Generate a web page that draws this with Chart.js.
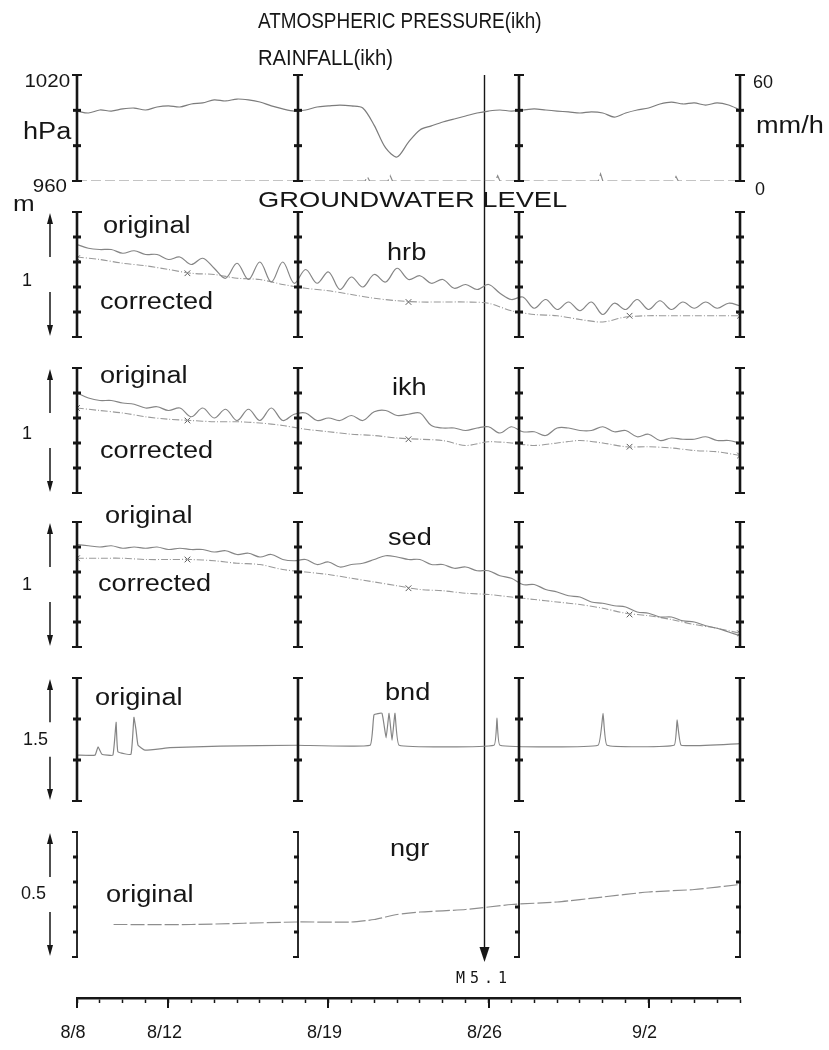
<!DOCTYPE html>
<html>
<head>
<meta charset="utf-8">
<script src="https://cdn.jsdelivr.net/npm/chart.js@4.4.1/dist/chart.umd.min.js"></script>
<style>
  body { margin: 0; background: #fff; }
  #page { position: relative; width: 829px; height: 1050px; overflow: hidden;
          font-family: "Liberation Sans", Arial, Helvetica, sans-serif; color: #161616; }
  #page canvas { position: absolute; left: 0; }
  .lbl { position: absolute; white-space: nowrap; line-height: 1; }
</style>
</head>
<body>
<div id="page">
  <canvas id="base" width="829" height="1050" style="top:0"></canvas>
  <canvas id="top" width="829" height="126" style="top:65px"></canvas>
  <canvas id="hrb" width="829" height="145" style="top:202px"></canvas>
  <canvas id="ikh" width="829" height="145" style="top:358px"></canvas>
  <canvas id="sed" width="829" height="145" style="top:512px"></canvas>
  <canvas id="bnd" width="829" height="143" style="top:668px"></canvas>
  <canvas id="ngr" width="829" height="145" style="top:822px"></canvas>
</div>
<script>
// Zeitachse in Tagen ab 8/8
const dayMax = 29;
const dateDays = [0, 4, 11, 18, 25];
const dateLabels = ['8/8', '8/12', '8/19', '8/26', '9/2'];
const dividerDays = [0, 9.67, 19.33, 29];
const markDays = [0, 4.83, 14.5, 24.17, 29];
const quakeDay = 17.8;
const quakeLabel = 'M5.1';

// Luftdruck (hPa), alle 12 h
const pressure = [999.6, 998.5, 1000.2, 999.6, 1000.8, 1001.3, 1000.2, 1001.9, 1002.5, 1001.9,
  1003.6, 1004.2, 1005.9, 1005.3, 1006.4, 1005.9, 1004.7, 1002.5, 1000.8, 999.6,
  1000.2, 1001.9, 1002.5, 1003.0, 1002.5, 1001.3, 991.5, 978.7, 973.6, 982.0,
  988.9, 991.2, 993.4, 995.1, 996.8, 998.5, 999.6, 1000.2, 999.6, 1000.2,
  1000.8, 1000.2, 999.6, 999.1, 998.5, 999.1, 998.5, 996.2, 998.5, 1000.2,
  1001.3, 1003.6, 1004.7, 1003.6, 1004.2, 1003.0, 1004.2, 1003.0, 1000.2];

// Niederschlag (mm/h)
const rainDays = [0, 12.6, 12.7, 12.8, 13.6, 13.7, 13.8, 18.3, 18.4, 18.5, 22.8, 22.9, 23.0, 26.1, 26.2, 26.3, 29];
const rainMm = [0, 0, 2.5, 0, 0, 3, 0, 0, 3, 0, 0, 4, 0, 0, 2.5, 0, 0];

// Grundwasser (m ueber Panel-Unterkante), original alle 12 h, korrigiert taeglich
const hrbOriginal = [0.74, 0.71, 0.70, 0.70, 0.67, 0.69, 0.66, 0.66, 0.62, 0.64,
  0.58, 0.63, 0.55, 0.47, 0.59, 0.46, 0.60, 0.44, 0.60, 0.43,
  0.54, 0.43, 0.52, 0.38, 0.48, 0.40, 0.50, 0.44, 0.55, 0.46,
  0.49, 0.43, 0.46, 0.39, 0.42, 0.38, 0.42, 0.35, 0.30, 0.32,
  0.23, 0.30, 0.22, 0.28, 0.21, 0.28, 0.18, 0.27, 0.22, 0.30,
  0.22, 0.29, 0.22, 0.28, 0.23, 0.28, 0.23, 0.27, 0.25];
const hrbCorrected = [0.64, 0.62, 0.59, 0.57, 0.54, 0.51, 0.50, 0.47, 0.46, 0.42,
  0.39, 0.37, 0.34, 0.31, 0.29, 0.28, 0.28, 0.28, 0.27, 0.21,
  0.18, 0.17, 0.14, 0.12, 0.16, 0.17, 0.17, 0.17, 0.17, 0.17];
const hrbMarks = [0.63, 0.51, 0.28, 0.17, 0.17];

const ikhOriginal = [0.80, 0.76, 0.74, 0.74, 0.72, 0.71, 0.68, 0.69, 0.66, 0.68,
  0.61, 0.68, 0.60, 0.67, 0.58, 0.67, 0.58, 0.68, 0.58, 0.63,
  0.64, 0.58, 0.60, 0.58, 0.62, 0.58, 0.65, 0.66, 0.62, 0.63,
  0.64, 0.54, 0.52, 0.52, 0.50, 0.52, 0.53, 0.48, 0.53, 0.49,
  0.49, 0.46, 0.52, 0.52, 0.50, 0.50, 0.53, 0.49, 0.50, 0.45,
  0.47, 0.42, 0.44, 0.43, 0.43, 0.45, 0.42, 0.42, 0.40];
const ikhCorrected = [0.68, 0.66, 0.64, 0.61, 0.59, 0.58, 0.57, 0.57, 0.56, 0.54,
  0.51, 0.49, 0.47, 0.46, 0.44, 0.43, 0.42, 0.38, 0.41, 0.40,
  0.38, 0.40, 0.42, 0.40, 0.37, 0.37, 0.36, 0.34, 0.33, 0.30];
const ikhMarks = [0.68, 0.58, 0.43, 0.37, 0.30];

const sedOriginal = [0.82, 0.81, 0.80, 0.81, 0.79, 0.80, 0.79, 0.80, 0.78, 0.79,
  0.78, 0.78, 0.76, 0.77, 0.74, 0.75, 0.72, 0.74, 0.70, 0.69,
  0.70, 0.66, 0.68, 0.64, 0.66, 0.67, 0.70, 0.73, 0.72, 0.70,
  0.70, 0.66, 0.66, 0.63, 0.64, 0.61, 0.61, 0.57, 0.55, 0.50,
  0.50, 0.46, 0.44, 0.41, 0.40, 0.36, 0.35, 0.33, 0.32, 0.28,
  0.27, 0.24, 0.24, 0.21, 0.20, 0.17, 0.15, 0.12, 0.09];
const sedCorrected = [0.71, 0.71, 0.71, 0.70, 0.70, 0.70, 0.69, 0.67, 0.66, 0.62,
  0.60, 0.58, 0.55, 0.52, 0.49, 0.46, 0.45, 0.43, 0.42, 0.40,
  0.38, 0.36, 0.34, 0.31, 0.27, 0.25, 0.22, 0.18, 0.15, 0.11];
const sedMarks = [0.71, 0.70, 0.47, 0.26, 0.11];

const bndDays = [0, 0.79, 0.92, 1.09, 1.57, 1.71, 1.79, 2.36, 2.49, 2.58,
  2.67, 2.97, 4.07, 6.26, 9.62, 12.82, 12.99, 13.34, 13.52, 13.65,
  13.78, 13.91, 14.09, 18.24, 18.37, 18.5, 22.79, 23.01, 23.18, 26.12,
  26.25, 26.43, 29];
const bndLevel = [0.56, 0.56, 0.66, 0.57, 0.56, 0.96, 0.60, 0.57, 1.02, 0.87,
  0.68, 0.62, 0.65, 0.67, 0.68, 0.68, 1.05, 1.07, 0.77, 1.07,
  0.74, 1.07, 0.68, 0.68, 1.01, 0.68, 0.68, 1.07, 0.68, 0.68,
  0.99, 0.68, 0.70];

const ngrDays = [1.6, 5, 9.6, 12, 13, 14, 15, 17, 19, 21, 23, 25, 27, 29];
const ngrLevel = [0.13, 0.13, 0.14, 0.14, 0.15, 0.17, 0.18, 0.19, 0.21, 0.22, 0.24, 0.26, 0.27, 0.29];

const INK = '#161616';
const TRACE = '#858585';
const TRACE2 = '#9a9a9a';

Chart.defaults.font.family = '"Liberation Sans", Arial, Helvetica, sans-serif';
Chart.defaults.animation = false;

function halfDaily(values) { return values.map((v, i) => ({ x: i * 0.5, y: v })); }
function daily(values) { return values.map((v, i) => ({ x: i, y: v })); }
function pairs(xs, ys) { return xs.map((x, i) => ({ x: x, y: ys[i] })); }

function seg(ctx, x1, y1, x2, y2) {
    ctx.beginPath();
    ctx.moveTo(x1, y1);
    ctx.lineTo(x2, y2);
    ctx.stroke();
}

function tri(ctx, x, tipY, baseY, half) {
    ctx.beginPath();
    ctx.moveTo(x, tipY);
    ctx.lineTo(x - half, baseY);
    ctx.lineTo(x + half, baseY);
    ctx.closePath();
    ctx.fill();
}

// Skalenbalken, Teilstriche und Pfeile links
function panelDecor(o) {
    return {
        id: 'decor',
        afterDatasetsDraw(chart) {
            const ctx = chart.ctx;
            const xs = chart.scales.x;
            const ys = chart.scales.y;
            const area = chart.chartArea;
            const top = ys.getPixelForValue(o.max);
            const bot = ys.getPixelForValue(o.min);
            ctx.save();
            ctx.strokeStyle = INK;
            ctx.fillStyle = INK;
            dividerDays.forEach(d => {
                const px = Math.round(xs.getPixelForValue(d));
                ctx.lineWidth = o.thin ? 1.8 : 2.6;
                seg(ctx, px, top, px, bot);
                ctx.lineWidth = 2;
                if (o.bracket) {
                    seg(ctx, px - 5, top, px + 1, top);
                    seg(ctx, px - 5, bot, px + 1, bot);
                } else {
                    seg(ctx, px - 5, top, px + 5, top);
                    seg(ctx, px - 5, bot, px + 5, bot);
                }
                for (let v = o.min + o.step; v < o.max - 1e-6; v += o.step) {
                    const py = ys.getPixelForValue(v);
                    ctx.lineWidth = 3;
                    if (o.bracket) seg(ctx, px - 4, py, px + 1, py);
                    else seg(ctx, px - 4, py, px + 4, py);
                }
            });
            if (o.arrows) {
                const ax = area.left - 27;
                const h = bot - top;
                ctx.lineWidth = 1.5;
                seg(ctx, ax, top + 10, ax, top + 0.36 * h);
                tri(ctx, ax, top + 1, top + 12, 3);
                seg(ctx, ax, top + 0.64 * h, ax, bot - 10);
                tri(ctx, ax, bot - 1, bot - 12, 3);
            }
            ctx.restore();
        }
    };
}

function panelOptions(yMin, yMax, extraScales) {
    const scales = {
        x: { type: 'linear', min: 0, max: dayMax, display: false },
        y: { min: yMin, max: yMax, display: false }
    };
    Object.assign(scales, extraScales || {});
    return {
        responsive: false,
        layout: { padding: { left: 77, right: 89, top: 10, bottom: 10 } },
        plugins: { legend: { display: false }, tooltip: { enabled: false } },
        elements: { point: { radius: 0 } },
        scales: scales
    };
}

function originalSet(data, extra) {
    return Object.assign({ data: data, borderColor: TRACE, borderWidth: 1.2, pointRadius: 0, tension: 0.35 }, extra || {});
}
function correctedSet(data) {
    return { data: data, borderColor: TRACE2, borderWidth: 1.1, borderDash: [7, 2, 1, 2], pointRadius: 0, tension: 0.3 };
}
function markSet(data) {
    return { data: data, showLine: false, pointStyle: 'crossRot', pointRadius: 4, borderColor: '#5a5a5a', borderWidth: 1 };
}

// Luftdruck + Niederschlag
new Chart(document.getElementById('top'), {
    type: 'line',
    data: {
        datasets: [
            originalSet(halfDaily(pressure), { yAxisID: 'y', tension: 0.3, borderColor: '#7c7c7c' }),
            { data: pairs(rainDays, rainMm), yAxisID: 'yr', borderColor: '#8a8a8a', borderWidth: 1.2, borderDash: [10, 4], pointRadius: 0 }
        ]
    },
    options: panelOptions(960, 1020, { yr: { min: 0, max: 60, display: false, position: 'right' } }),
    plugins: [panelDecor({ min: 960, max: 1020, step: 20 })]
});

// Grundwasser-Panels
new Chart(document.getElementById('hrb'), {
    type: 'line',
    data: { datasets: [originalSet(halfDaily(hrbOriginal)), correctedSet(daily(hrbCorrected)), markSet(pairs(markDays, hrbMarks))] },
    options: panelOptions(0, 1),
    plugins: [panelDecor({ min: 0, max: 1, step: 0.2, arrows: true })]
});

new Chart(document.getElementById('ikh'), {
    type: 'line',
    data: { datasets: [originalSet(halfDaily(ikhOriginal)), correctedSet(daily(ikhCorrected)), markSet(pairs(markDays, ikhMarks))] },
    options: panelOptions(0, 1),
    plugins: [panelDecor({ min: 0, max: 1, step: 0.2, arrows: true })]
});

new Chart(document.getElementById('sed'), {
    type: 'line',
    data: { datasets: [originalSet(halfDaily(sedOriginal)), correctedSet(daily(sedCorrected)), markSet(pairs(markDays, sedMarks))] },
    options: panelOptions(0, 1),
    plugins: [panelDecor({ min: 0, max: 1, step: 0.2, arrows: true })]
});

new Chart(document.getElementById('bnd'), {
    type: 'line',
    data: { datasets: [originalSet(pairs(bndDays, bndLevel), { tension: 0.1 })] },
    options: panelOptions(0, 1.5),
    plugins: [panelDecor({ min: 0, max: 1.5, step: 0.5, arrows: true })]
});

new Chart(document.getElementById('ngr'), {
    type: 'line',
    data: { datasets: [originalSet(pairs(ngrDays, ngrLevel), { borderDash: [14, 3], tension: 0.2, borderColor: '#8e8e8e' })] },
    options: panelOptions(0, 0.5),
    plugins: [panelDecor({ min: 0, max: 0.5, step: 0.1, arrows: true, bracket: true, thin: true })]
});

// Datumsachse unten + Erdbebenpfeil
new Chart(document.getElementById('base'), {
    type: 'line',
    data: { datasets: [] },
    options: {
        responsive: false,
        layout: { padding: { left: 77, right: 89, top: 75, bottom: 0 } },
        plugins: { legend: { display: false }, tooltip: { enabled: false } },
        scales: {
            x: {
                type: 'linear', min: 0, max: dayMax, position: 'bottom',
                afterFit: s => { s.height = 52; },
                ticks: {
                    stepSize: 1, autoSkip: false, maxRotation: 0, padding: 19, labelOffset: -4,
                    color: INK, font: { size: 18 },
                    callback: v => {
                        const k = dateDays.indexOf(v);
                        return k >= 0 ? dateLabels[k] : '';
                    }
                },
                grid: { drawOnChartArea: false, tickLength: 5, tickWidth: 1.5, tickColor: INK },
                border: { color: INK, width: 2.5 }
            },
            y: { display: false, min: 0, max: 1 }
        }
    },
    plugins: [{
        id: 'axisExtras',
        afterDraw(chart) {
            const ctx = chart.ctx;
            const xs = chart.scales.x;
            const area = chart.chartArea;
            ctx.save();
            ctx.strokeStyle = INK;
            ctx.fillStyle = INK;
            ctx.lineWidth = 2;
            dateDays.forEach(d => {
                const px = Math.round(xs.getPixelForValue(d));
                seg(ctx, px, area.bottom, px, area.bottom + 10);
            });
            const qx = Math.round(xs.getPixelForValue(quakeDay)) + 0.5;
            const tip = area.bottom - 36;
            ctx.lineWidth = 1.4;
            seg(ctx, qx, area.top, qx, tip - 12);
            tri(ctx, qx, tip, tip - 15, 5);
            ctx.restore();
        }
    }]
});

// Beschriftungen (echter Text)
const texts = [
    { t: 'ATMOSPHERIC PRESSURE(ikh)', x: 258, y: 29, s: 22, sx: 0.86 },
    { t: 'RAINFALL(ikh)', x: 258, y: 66, s: 22, sx: 0.92 },
    { t: 'GROUNDWATER LEVEL', x: 258, y: 208, s: 22, sx: 1.24 },
    { t: '1020', x: 70, y: 87, s: 18, sx: 1.14, a: 'r' },
    { t: '960', x: 67, y: 192, s: 18, sx: 1.14, a: 'r' },
    { t: 'hPa', x: 23, y: 139, s: 23 },
    { t: '60', x: 753, y: 88, s: 18, sx: 1.0 },
    { t: 'mm/h', x: 756, y: 133, s: 23 },
    { t: '0', x: 755, y: 195, s: 18, sx: 1.0 },
    { t: 'm', x: 13, y: 212, s: 22 },
    { t: 'original', x: 103, y: 233, s: 23 },
    { t: 'corrected', x: 100, y: 309, s: 23 },
    { t: '1', x: 22, y: 286, s: 18, sx: 1.0 },
    { t: 'hrb', x: 387, y: 260, s: 23 },
    { t: 'original', x: 100, y: 383, s: 23 },
    { t: 'corrected', x: 100, y: 458, s: 23 },
    { t: '1', x: 22, y: 439, s: 18, sx: 1.0 },
    { t: 'ikh', x: 392, y: 395, s: 23 },
    { t: 'original', x: 105, y: 523, s: 23 },
    { t: 'corrected', x: 98, y: 591, s: 23 },
    { t: '1', x: 22, y: 590, s: 18, sx: 1.0 },
    { t: 'sed', x: 388, y: 545, s: 23 },
    { t: 'original', x: 95, y: 705, s: 23 },
    { t: '1.5', x: 23, y: 745, s: 18, sx: 1.0 },
    { t: 'bnd', x: 385, y: 700, s: 23 },
    { t: 'original', x: 106, y: 902, s: 23 },
    { t: '0.5', x: 21, y: 899, s: 18, sx: 1.0 },
    { t: 'ngr', x: 390, y: 856, s: 23 }
];

const page = document.getElementById('page');
texts.forEach(l => {
    const d = document.createElement('div');
    d.className = 'lbl';
    d.textContent = l.t;
    d.style.fontSize = l.s + 'px';
    d.style.top = (l.y - 0.8465 * l.s) + 'px';
    const sx = l.sx || 1.18;
    if (l.a === 'r') {
        d.style.right = (829 - l.x) + 'px';
        d.style.transformOrigin = 'right';
    } else {
        d.style.left = l.x + 'px';
        d.style.transformOrigin = 'left';
    }
    d.style.transform = 'scaleX(' + sx + ')';
    page.appendChild(d);
});

// Erdbeben-Beschriftung unter dem Pfeil
const q = document.createElement('div');
q.className = 'lbl';
q.textContent = quakeLabel;
q.style.font = '15px "DejaVu Sans Mono", monospace';
q.style.letterSpacing = '5px';
q.style.left = '456px';
q.style.top = '969px';
page.appendChild(q);
</script>
</body>
</html>
